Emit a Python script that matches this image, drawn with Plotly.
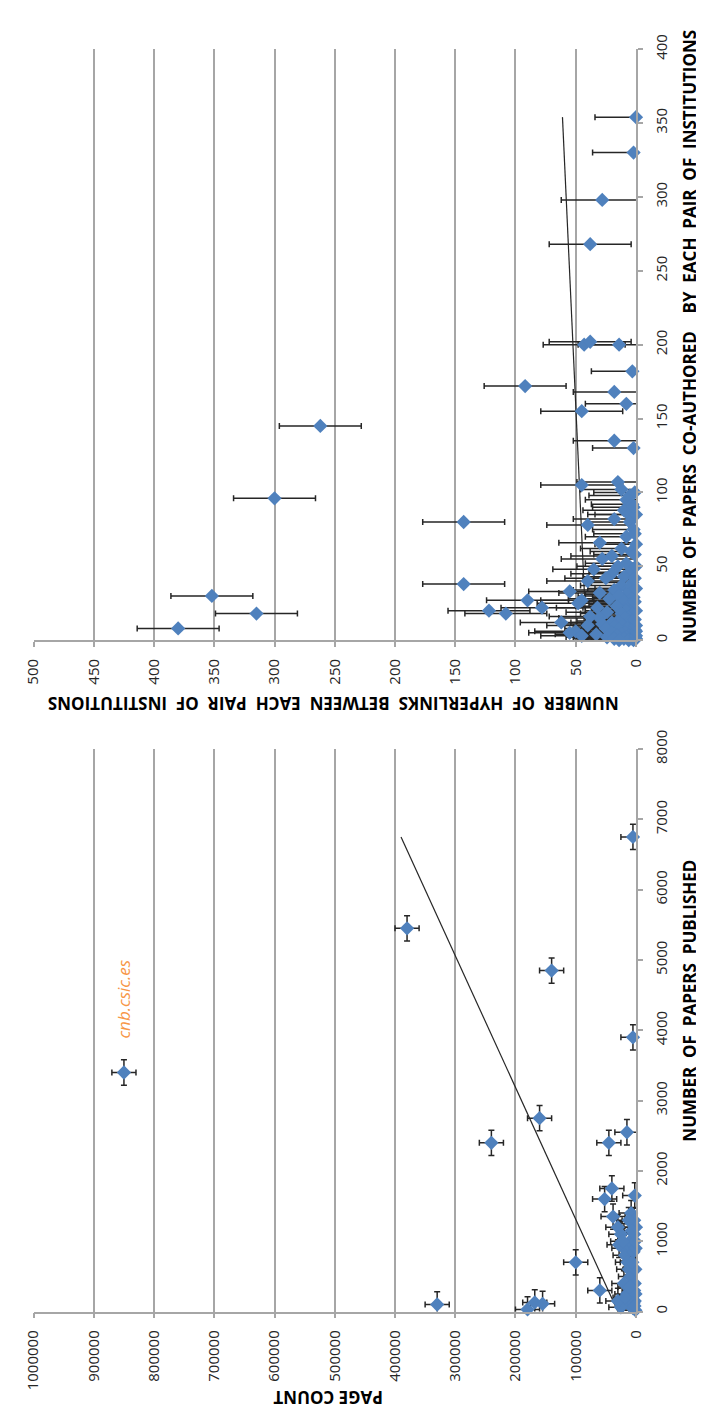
import plotly.graph_objects as go

# ---------------- Upper chart: hyperlinks vs co-authored papers ----------------
co_authored = [8, 18, 30, 96, 145, 38, 80, 20, 18, 172, 27, 22, 12,
               200, 202, 200, 182, 168, 160, 155, 135, 130,
               105, 107, 102, 98, 95, 92, 88, 85, 82, 80, 78, 75,
               70, 66, 62, 60, 57, 55, 52, 50, 48, 46, 45, 43, 42, 40, 39, 37, 35, 34, 33, 32, 31, 30,
               29, 28, 27, 26, 25, 24, 23, 22, 21, 20, 19, 18, 17, 16, 15, 15, 14, 13, 12, 12, 11, 10,
               10, 9, 9, 8, 8, 7, 7, 6, 6, 5, 5, 5, 4, 4, 4, 3, 3, 3, 2, 2, 2, 1, 1, 1, 0, 0, 0,
               1, 3, 6, 10, 14, 20, 26, 35, 42, 50, 58, 65, 72, 85, 100, 90,
               268, 298, 330, 354]
hyperlinks = [380, 315, 352, 300, 262, 143, 143, 122, 108, 92, 90, 78, 62,
              43, 38, 14, 3, 18, 8, 45, 18, 2,
              45, 15, 12, 5, 8, 3, 10, 6, 18, 5, 40, 2,
              8, 30, 12, 4, 20, 28, 8, 15, 35, 5, 20, 10, 25, 40, 3, 12, 6, 18, 55, 30, 8, 14,
              2, 22, 45, 10, 48, 5, 16, 32, 3, 8, 24, 12, 4, 38, 30, 9, 2, 15, 6, 20, 28, 40,
              11, 3, 18, 7, 25, 1, 14, 4, 50, 55, 9, 20, 2, 12, 33, 6, 16, 45, 1, 8, 24, 3, 10, 18, 2, 6, 14,
              0, 0, 0, 0, 1, 0, 1, 0, 1, 0, 1, 0, 1, 0, 1, 2,
              38, 28, 2, 0]
hyperlinks_error = 34
trend_co = [0, 354]
trend_hyper = [41, 61]

# ---------------- Lower chart: page count vs papers published ----------------
page_count = [850000, 380000, 330000, 240000, 160000, 140000, 180000, 168000, 155000, 100000,
              60000, 45000, 40000, 38000, 52000, 30000, 25000, 20000, 18000, 12000,
              28000, 15000, 5000, 5000, 2000, 8000, 6000, 3000, 10000, 4000,
              14000, 9000, 20000, 3000, 7000, 2000, 12000, 5000, 1000, 25000,
              15000, 30000, 1000, 2000, 500, 0, 3000, 1500, 6000, 800,
              4000, 10000, 2500, 18000, 7000, 12000, 22000]
papers = [3400, 5450, 100, 2400, 2750, 4850, 30, 130, 110, 700,
          300, 2400, 1750, 1350, 1600, 1200, 1100, 900, 800, 600,
          950, 2550, 3900, 6750, 1650, 1400, 1250, 1100, 1000, 850,
          700, 500, 400, 300, 200, 150, 100, 50, 20, 60,
          250, 150, 600, 400, 900, 1200, 1300, 1000, 700, 250,
          120, 350, 80, 200, 1150, 1300, 1000]
page_error = 20000
papers_error = 180
trend_papers = [0, 6750]
trend_pages = [30000, 390000]
label_text = "cnb.csic.es"
label_index = 0

BLUE = "#4f81bd"
GRID = "#a6a6a6"
ERR = "#262626"
FONT = "Open Sans"
W, H = 704, 1407


def py(px):
    return (H - px) / H


fig = go.Figure()

# upper: error bars (clipped), trend, markers
fig.add_trace(go.Scatter(x=hyperlinks, y=co_authored, mode="markers",
                         marker=dict(size=10, color="rgba(0,0,0,0)"),
                         error_x=dict(type="constant", value=hyperlinks_error, color=ERR,
                                      thickness=1.5, width=3),
                         xaxis="x", yaxis="y", hoverinfo="skip", showlegend=False))
fig.add_trace(go.Scatter(x=trend_hyper, y=trend_co, mode="lines",
                         line=dict(color="#262626", width=1.2),
                         xaxis="x", yaxis="y", showlegend=False))
fig.add_trace(go.Scatter(x=hyperlinks, y=co_authored, mode="markers",
                         marker=dict(symbol="diamond", size=11, color=BLUE),
                         cliponaxis=False, xaxis="x", yaxis="y", showlegend=False))

# lower
fig.add_trace(go.Scatter(x=page_count, y=papers, mode="markers",
                         marker=dict(size=10, color="rgba(0,0,0,0)"),
                         error_x=dict(type="constant", value=page_error, color=ERR,
                                      thickness=1.5, width=3),
                         error_y=dict(type="constant", value=papers_error, color=ERR,
                                      thickness=1.5, width=3),
                         xaxis="x2", yaxis="y2", hoverinfo="skip", showlegend=False))
fig.add_trace(go.Scatter(x=trend_pages, y=trend_papers, mode="lines",
                         line=dict(color="#262626", width=1.2),
                         xaxis="x2", yaxis="y2", showlegend=False))
fig.add_trace(go.Scatter(x=page_count, y=papers, mode="markers",
                         marker=dict(symbol="diamond", size=11, color=BLUE),
                         cliponaxis=False, xaxis="x2", yaxis="y2", showlegend=False))

xdom = [15 / W, 635 / W]
tickfont = dict(family=FONT, size=15, color="#262626")
common_x = dict(domain=xdom, tickangle=-90, showgrid=True, gridcolor=GRID, gridwidth=1.5,
                zeroline=False, showline=True, linecolor=GRID, linewidth=1.5,
                ticks="outside", ticklen=5, tickcolor=GRID, tickwidth=1.5,
                tickfont=tickfont, ticklabelstandoff=6, tickformat="d")
common_y = dict(side="right", tickangle=-90, showgrid=False, zeroline=False,
                showline=True, linecolor=GRID, linewidth=1.5,
                ticks="outside", ticklen=5, tickcolor=GRID, tickwidth=1.5,
                tickfont=tickfont, ticklabelstandoff=6, tickformat="d")

fig.update_layout(
    width=W, height=H, margin=dict(l=0, r=0, t=0, b=0),
    paper_bgcolor="white", plot_bgcolor="white",
    xaxis=dict(common_x, range=[500, 0], dtick=50, tick0=0, anchor="y"),
    yaxis=dict(common_y, range=[0, 400], dtick=50, tick0=0, anchor="x",
               domain=[py(622.5), py(22.5)]),
    xaxis2=dict(common_x, range=[1000000, 0], dtick=100000, tick0=0, anchor="y2"),
    yaxis2=dict(common_y, range=[0, 8000], dtick=1000, tick0=0, anchor="x2",
                domain=[py(1304), py(733)]),
)

title_font = dict(family=FONT, size=17, color="#000000")
S = "\u00a0 "
ann = dict(xref="paper", yref="paper", showarrow=False, font=title_font,
           xanchor="center", yanchor="middle")
fig.add_annotation(ann, text="<b>" + S.join(["NUMBER", "OF", "HYPERLINKS", "BETWEEN", "EACH", "PAIR", "OF", "INSTITUTIONS"]) + "</b>",
                   x=323 / W, y=py(687), textangle=180)
fig.add_annotation(ann, text="<b>" + S.join(["NUMBER", "OF", "PAPERS", "CO-AUTHORED", "", "BY", "EACH", "PAIR", "OF", "INSTITUTIONS"]) + "</b>",
                   x=690 / W, y=py(314), textangle=-90)
fig.add_annotation(ann, text="<b>" + S.join(["NUMBER", "OF", "PAPERS", "PUBLISHED"]) + "</b>",
                   x=690 / W, y=py(988), textangle=-90)
fig.add_annotation(ann, text="<b>PAGE COUNT</b>",
                   x=318 / W, y=py(1392), textangle=180)
fig.add_annotation(text="<i>" + label_text + "</i>", xref="x2", yref="y2",
                   x=page_count[label_index], y=papers[label_index] + 1050, textangle=-90,
                   xanchor="center", yanchor="middle",
                   showarrow=False, font=dict(family=FONT, size=17, color="#f79646"))

fig.write_html("out.html")
